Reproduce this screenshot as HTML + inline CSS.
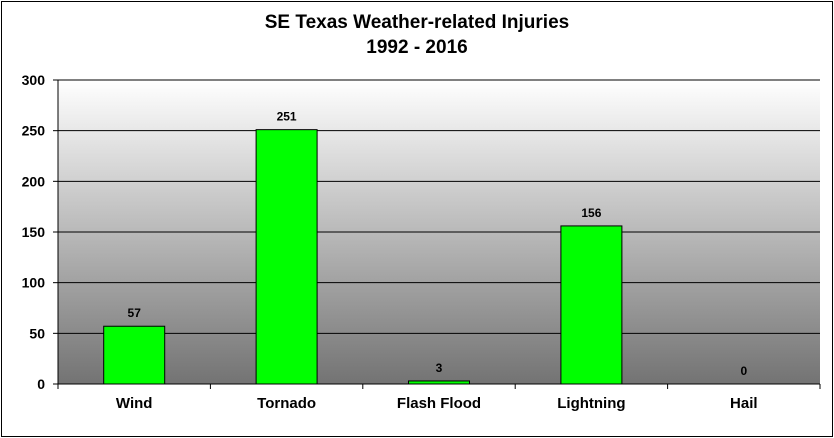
<!DOCTYPE html>
<html><head><meta charset="utf-8"><style>
html,body{margin:0;padding:0;background:#fff}
svg{display:block;font-family:"Liberation Sans",Arial,sans-serif}
</style></head><body>
<svg width="834" height="438" viewBox="0 0 834 438">
<defs><linearGradient id="bg" x1="0" y1="0" x2="0" y2="1"><stop offset="0" stop-color="#ffffff"/><stop offset="1" stop-color="#737373"/></linearGradient></defs>
<rect x="1.5" y="1.5" width="831" height="435" fill="#fff" stroke="#000" stroke-width="1"/>
<text x="417" y="28" text-anchor="middle" font-size="19" font-weight="bold">SE Texas Weather-related  Injuries</text>
<text x="417" y="53" text-anchor="middle" font-size="19" font-weight="bold">1992 - 2016</text>
<rect x="58" y="80" width="762" height="304" fill="url(#bg)"/>
<g id="grid"></g><g id="bars"></g><g id="axes"></g>
</svg>
<script>
const categories=["Wind","Tornado","Flash Flood","Lightning","Hail"];
const values=[57,251,3,156,0];
const yTicks=[0,50,100,150,200,250,300];
const ns="http://www.w3.org/2000/svg";
const X0=58,X1=820,Y0=384,Y1=80,YMAX=300;
const y=v=>Y0-(v/YMAX)*(Y0-Y1);
const bw=(X1-X0)/categories.length;
const xc=i=>X0+bw*(i+0.5);
function mk(t,a,p){const e=document.createElementNS(ns,t);for(const k in a)e.setAttribute(k,a[k]);p.appendChild(e);return e;}
const grid=document.getElementById('grid'),bars=document.getElementById('bars'),axes=document.getElementById('axes');
yTicks.forEach(v=>{
 if(v>0){const l=mk('line',{x1:X0,x2:X1,y1:y(v),y2:y(v),stroke:'#000','stroke-width':1},grid);
 
 }
 const tk=mk('line',{x1:X0-5,x2:X0,y1:y(v),y2:y(v),stroke:'#000'},axes);
 
 
 const t=mk('text',{x:X0-13,y:y(v)+5,'text-anchor':'end','font-size':14,'font-weight':'bold'},axes);
 t.textContent=v;
 
 
});
categories.forEach((c,i)=>{
 const w=61,v=values[i];
 const r=mk('rect',{x:xc(i)-w/2,y:y(v),width:w,height:Y0-y(v),fill:'#00ff00',stroke:'#000','stroke-width':1},bars);
 
 
 const t=mk('text',{x:xc(i),y:y(v)-9,'text-anchor':'middle','font-size':12,'font-weight':'bold'},bars);
 t.textContent=v;
 
 
 const xl=mk('text',{x:xc(i),y:408,'text-anchor':'middle','font-size':15,'font-weight':'bold'},axes);
 xl.textContent=c;
 
 
});
for(let i=0;i<=categories.length;i++){
 const tk=mk('line',{x1:X0+bw*i,x2:X0+bw*i,y1:Y0,y2:Y0+5,stroke:'#000'},axes);
 
 
}
const ya=mk('line',{x1:X0,x2:X0,y1:Y1,y2:Y0,stroke:'#000'},axes);


const xa=mk('line',{x1:X0,x2:X1,y1:Y0,y2:Y0,stroke:'#000'},axes);


</script>
</body></html>
